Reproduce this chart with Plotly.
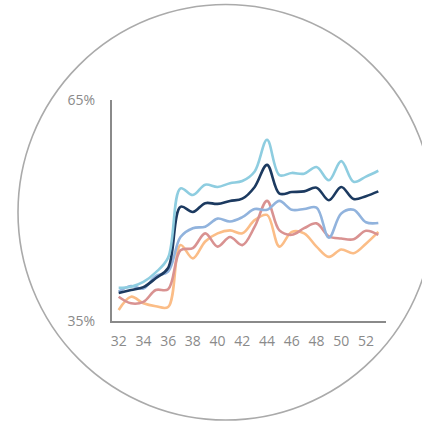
import plotly.graph_objects as go

weeks = list(range(32, 54))
light_blue = [39.5, 39.65, 40.3, 41.6, 43.6, 53.0, 52.1, 53.5, 53.2, 53.7, 54.0, 55.3, 59.6, 54.8, 55.1, 55.0, 55.9, 54.1, 56.7, 53.9, 54.6, 55.4]
navy = [38.8, 39.2, 39.6, 40.8, 42.2, 50.5, 49.8, 51.0, 50.9, 51.3, 51.6, 53.2, 56.2, 52.3, 52.5, 52.6, 53.1, 51.4, 53.2, 51.55, 51.95, 52.6]
mid_blue = [39.0, 39.75, 39.4, 41.1, 41.7, 46.4, 47.6, 47.8, 48.9, 48.5, 49.1, 50.2, 50.1, 51.3, 50.1, 50.2, 50.4, 46.3, 49.6, 50.1, 48.4, 48.3]
rose = [38.3, 37.4, 37.6, 39.2, 39.3, 44.6, 44.9, 46.9, 45.1, 46.4, 45.3, 47.8, 51.3, 47.3, 46.7, 47.6, 48.25, 46.5, 46.2, 46.1, 47.25, 46.7]
orange = [36.5, 38.3, 37.4, 37.0, 36.9, 45.3, 43.5, 45.8, 46.9, 47.3, 46.9, 48.7, 49.4, 45.1, 47.1, 46.9, 45.1, 43.7, 44.7, 44.2, 45.5, 47.1]

series = [
    ("Orange", orange, "#fbbd87"),
    ("Rose", rose, "#d99291"),
    ("Mid blue", mid_blue, "#91b3dd"),
    ("Navy", navy, "#1c3a60"),
    ("Light blue", light_blue, "#8ecde0"),
]

fig = go.Figure()
for name, vals, col in series:
    fig.add_trace(go.Scatter(
        x=weeks, y=vals, mode="lines", name=name,
        line=dict(color=col, width=2.6, shape="spline", smoothing=1.0),
        hoverinfo="skip",
    ))

W = 422
ml, mr, mt, mb = 112, 36, 100, 101
pw = W - ml - mr
ph = W - mt - mb

def px_to_paper_x(px):
    return (px - ml) / pw

def px_to_paper_y(py):
    return (W - mb - py) / ph

fig.add_shape(
    type="circle", xref="paper", yref="paper",
    x0=px_to_paper_x(18), x1=px_to_paper_x(433.5),
    y0=px_to_paper_y(420), y1=px_to_paper_y(4.5),
    line=dict(color="#aaaaaa", width=1.6), layer="below",
)

fig.update_layout(
    width=W, height=W,
    margin=dict(l=ml, r=mr, t=mt, b=mb, pad=0),
    paper_bgcolor="white", plot_bgcolor="white",
    showlegend=False,
    font=dict(family="Open Sans", size=14, color="#8a8a8a"),
)
fig.update_xaxes(
    range=[31.46, 53.62], tickmode="array",
    tickvals=list(range(32, 53, 2)), ticktext=[str(v) for v in range(32, 53, 2)],
    showgrid=False, zeroline=False, showline=True, linecolor="#8a8a8a", linewidth=2,
    ticks="", ticklabelstandoff=6,
)
fig.update_yaxes(
    range=[35, 65], tickmode="array", tickvals=[35, 65], ticktext=["35%", "65%"],
    showgrid=False, zeroline=False, showline=True, linecolor="#8a8a8a", linewidth=2,
    ticks="", ticklabelstandoff=12,
)

fig.write_html("out.html")
